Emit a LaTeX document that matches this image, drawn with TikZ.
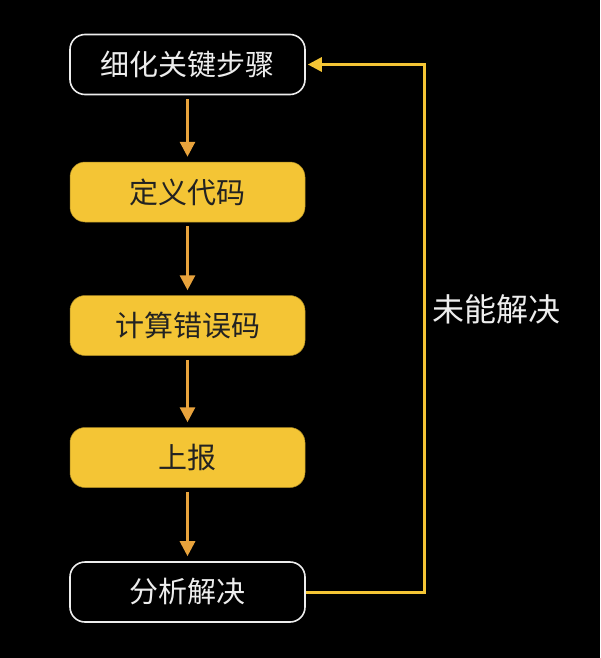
\documentclass[tikz,border=0pt]{standalone}
\usepackage{fontspec}
\setmainfont{Noto Sans CJK SC}
\usetikzlibrary{arrows.meta}
\definecolor{bg}{HTML}{000000}
\definecolor{boxyellow}{HTML}{F4C535}
\definecolor{arroworange}{HTML}{E8A33C}
\definecolor{loopyellow}{HTML}{F4C535}
\definecolor{txtwhite}{HTML}{EDEDED}
\definecolor{txtdark}{HTML}{222222}
\tikzset{
  outlinebox/.style={draw=txtwhite, line width=1.6pt, rounded corners=15pt, minimum width=235pt, minimum height=60pt, text=txtwhite, font=\fontsize{29pt}{29pt}\selectfont, inner sep=0pt},
  fillbox/.style={fill=boxyellow, draw=boxyellow!70!black, line width=0.5pt, rounded corners=15pt, minimum width=235pt, minimum height=60pt, text=txtdark, font=\fontsize{29pt}{29pt}\selectfont, inner sep=0pt},
  flowarrow/.style={draw=arroworange, line width=3pt, -{Triangle[length=15pt,width=15pt]}, shorten <=4pt, shorten >=5pt},
  looparrow/.style={draw=loopyellow, line width=3pt, -{Triangle[length=14pt,width=14pt]}, shorten >=2pt},
  looplabel/.style={text=txtwhite, font=\fontsize{32pt}{32pt}\selectfont, anchor=west, inner sep=0pt}
}
\begin{document}
\begin{tikzpicture}[x=1pt,y=-1pt]
\fill[bg] (0,0) rectangle (600,658);
\useasboundingbox (0,0) rectangle (600,658);
\node[outlinebox] (s1) at (187.5,64.5) {细化关键步骤};
\node[fillbox] (s2) at (187.5,192) {定义代码};
\node[fillbox] (s3) at (187.5,325.5) {计算错误码};
\node[fillbox] (s4) at (187.5,457.5) {上报};
\node[outlinebox] (s5) at (187.5,592) {分析解决};
\draw[flowarrow] (s1) -- (s2);
\draw[flowarrow] (s2) -- (s3);
\draw[flowarrow] (s3) -- (s4);
\draw[flowarrow] (s4) -- (s5);
\coordinate (c1) at (424,592);
\coordinate (c2) at (424,64.5);
\draw[looparrow] (s5.east) -- (c1) -- (c2) -- (s1.east);
\node[looplabel] (lbl) at (432,309) {未能解决};
\end{tikzpicture}
\end{document}
